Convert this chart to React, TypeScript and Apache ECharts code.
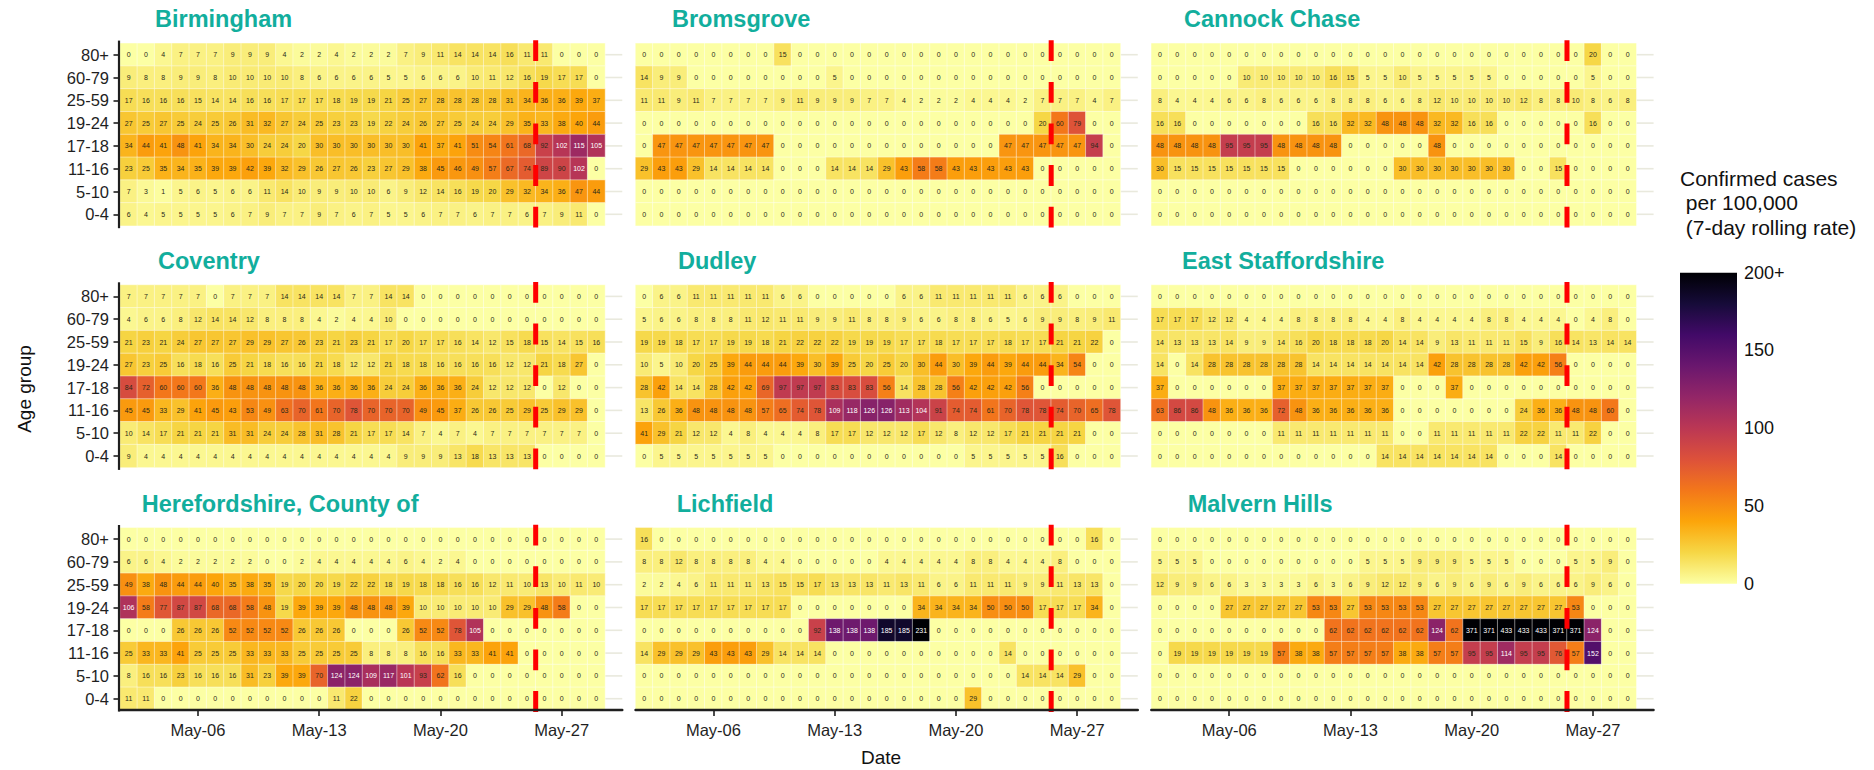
import React, { useEffect, useRef } from "react";
import * as echarts from "echarts";

const ageGroups = ["80+", "60-79", "25-59", "19-24", "17-18", "11-16", "5-10", "0-4"];
const dates = ["May-02", "May-03", "May-04", "May-05", "May-06", "May-07", "May-08", "May-09", "May-10", "May-11", "May-12", "May-13", "May-14", "May-15", "May-16", "May-17", "May-18", "May-19", "May-20", "May-21", "May-22", "May-23", "May-24", "May-25", "May-26", "May-27", "May-28", "May-29", "May-30"];
const tickDates = ["May-06", "May-13", "May-20", "May-27"];
const lockdownEdgeDate = "May-26";
const inferno = ["#FCFFA4", "#F6D746", "#FCA50A", "#F3771A", "#DD513A", "#BB3754", "#932667", "#6A176E", "#420A68", "#160B39", "#000004"];

const noCases = [0, 0, 0, 0, 0, 0, 0, 0, 0, 0, 0, 0, 0, 0, 0, 0, 0, 0, 0, 0, 0, 0, 0, 0, 0, 0, 0, 0];

const birmingham = [
  [0, 0, 4, 7, 7, 7, 9, 9, 9, 4, 2, 2, 4, 2, 2, 2, 7, 9, 11, 14, 14, 14, 16, 11, 11, 0, 0, 0],
  [9, 8, 8, 9, 9, 8, 10, 10, 10, 10, 8, 6, 6, 6, 6, 5, 5, 6, 6, 6, 10, 11, 12, 16, 19, 17, 17, 0],
  [17, 16, 16, 16, 15, 14, 14, 16, 16, 17, 17, 17, 18, 19, 19, 21, 25, 27, 28, 28, 28, 28, 31, 34, 36, 36, 39, 37],
  [27, 25, 27, 25, 24, 25, 26, 31, 32, 27, 24, 25, 23, 23, 19, 22, 24, 26, 27, 25, 24, 24, 29, 35, 33, 38, 40, 44],
  [34, 44, 41, 48, 41, 34, 34, 30, 24, 24, 20, 30, 30, 30, 30, 30, 30, 41, 37, 41, 51, 54, 61, 68, 92, 102, 115, 105],
  [23, 25, 35, 34, 35, 39, 39, 42, 39, 32, 29, 26, 27, 26, 23, 27, 29, 38, 45, 46, 49, 57, 67, 74, 89, 90, 102, 0],
  [7, 3, 1, 5, 6, 5, 6, 6, 11, 14, 10, 9, 9, 10, 10, 6, 9, 12, 14, 16, 19, 20, 29, 32, 34, 36, 47, 44],
  [6, 4, 5, 5, 5, 5, 6, 7, 9, 7, 7, 9, 7, 6, 7, 5, 5, 6, 7, 7, 6, 7, 7, 6, 7, 9, 11, 0],
];
const bromsgrove = [
  [0, 0, 0, 0, 0, 0, 0, 0, 15, 0, 0, 0, 0, 0, 0, 0, 0, 0, 0, 0, 0, 0, 0, 0, 0, 0, 0, 0],
  [14, 9, 9, 0, 0, 0, 0, 0, 0, 0, 0, 5, 0, 0, 0, 0, 0, 0, 0, 0, 0, 0, 0, 0, 0, 0, 0, 0],
  [11, 11, 9, 11, 7, 7, 7, 7, 9, 11, 9, 9, 9, 7, 7, 4, 2, 2, 2, 4, 4, 4, 2, 7, 7, 7, 4, 7],
  [0, 0, 0, 0, 0, 0, 0, 0, 0, 0, 0, 0, 0, 0, 0, 0, 0, 0, 0, 0, 0, 0, 0, 20, 60, 79, 0, 0],
  [0, 47, 47, 47, 47, 47, 47, 47, 0, 0, 0, 0, 0, 0, 0, 0, 0, 0, 0, 0, 0, 47, 47, 47, 47, 47, 94, 0],
  [29, 43, 43, 29, 14, 14, 14, 14, 0, 0, 0, 14, 14, 14, 29, 43, 58, 58, 43, 43, 43, 43, 43, 0, 0, 0, 0, 0],
  noCases,
  noCases,
];
const cannockChase = [
  [0, 0, 0, 0, 0, 0, 0, 0, 0, 0, 0, 0, 0, 0, 0, 0, 0, 0, 0, 0, 0, 0, 0, 0, 0, 20, 0, 0],
  [0, 0, 0, 0, 0, 10, 10, 10, 10, 10, 16, 15, 5, 5, 10, 5, 5, 5, 5, 5, 0, 0, 0, 0, 0, 5, 0, 0],
  [8, 4, 4, 4, 6, 6, 8, 6, 6, 6, 8, 8, 8, 6, 6, 8, 12, 10, 10, 10, 10, 12, 8, 8, 10, 8, 6, 8],
  [16, 16, 0, 0, 0, 0, 0, 0, 0, 16, 16, 32, 32, 48, 48, 48, 32, 32, 16, 16, 0, 0, 0, 0, 0, 16, 0, 0],
  [48, 48, 48, 48, 95, 95, 95, 48, 48, 48, 48, 0, 0, 0, 0, 0, 48, 0, 0, 0, 0, 0, 0, 0, 0, 0, 0, 0],
  [30, 15, 15, 15, 15, 15, 15, 15, 0, 0, 0, 0, 0, 0, 30, 30, 30, 30, 30, 30, 30, 0, 0, 15, 0, 0, 0, 0],
  noCases,
  noCases,
];
const coventry = [
  [7, 7, 7, 7, 7, 0, 7, 7, 7, 14, 14, 14, 14, 7, 7, 14, 14, 0, 0, 0, 0, 0, 0, 0, 0, 0, 0, 0],
  [4, 6, 6, 8, 12, 14, 14, 12, 8, 8, 8, 4, 2, 4, 4, 10, 0, 0, 0, 0, 0, 0, 0, 0, 0, 0, 0, 0],
  [21, 23, 21, 24, 27, 27, 27, 29, 29, 27, 26, 23, 21, 23, 21, 17, 20, 17, 17, 16, 14, 12, 15, 18, 15, 14, 15, 16],
  [27, 23, 25, 16, 18, 16, 25, 21, 18, 16, 16, 21, 18, 12, 12, 21, 18, 18, 16, 16, 16, 16, 12, 12, 21, 18, 27, 0],
  [84, 72, 60, 60, 60, 36, 48, 48, 48, 48, 48, 36, 36, 36, 36, 24, 24, 36, 36, 36, 24, 12, 12, 12, 0, 12, 0, 0],
  [45, 45, 33, 29, 41, 45, 43, 53, 49, 63, 70, 61, 70, 78, 70, 70, 70, 49, 45, 37, 26, 26, 25, 29, 25, 29, 29, 0],
  [10, 14, 17, 21, 21, 21, 31, 31, 24, 24, 28, 31, 28, 21, 17, 17, 14, 7, 4, 7, 4, 7, 7, 7, 7, 7, 7, 0],
  [9, 4, 4, 4, 4, 4, 4, 4, 4, 4, 4, 4, 4, 4, 4, 4, 9, 9, 9, 13, 18, 13, 13, 13, 0, 0, 0, 0],
];
const dudley = [
  [0, 6, 6, 11, 11, 11, 11, 11, 6, 6, 0, 0, 0, 0, 0, 6, 6, 11, 11, 11, 11, 11, 6, 6, 6, 0, 0, 0],
  [5, 6, 6, 8, 8, 8, 11, 12, 11, 11, 9, 9, 11, 8, 8, 9, 6, 6, 8, 8, 6, 5, 6, 9, 9, 8, 9, 11],
  [19, 19, 18, 17, 17, 19, 19, 18, 21, 22, 22, 22, 19, 19, 19, 17, 17, 18, 17, 17, 17, 18, 17, 17, 21, 21, 22, 0],
  [10, 5, 10, 20, 25, 39, 44, 44, 44, 39, 30, 39, 25, 20, 25, 20, 30, 44, 30, 39, 44, 39, 44, 44, 34, 54, 0, 0],
  [28, 42, 14, 14, 28, 42, 42, 69, 97, 97, 97, 83, 83, 83, 56, 14, 28, 28, 56, 42, 42, 42, 56, 0, 0, 0, 0, 0],
  [13, 26, 36, 48, 48, 48, 48, 57, 65, 74, 78, 109, 118, 126, 126, 113, 104, 91, 74, 74, 61, 70, 78, 78, 74, 70, 65, 78],
  [41, 29, 21, 12, 12, 4, 8, 4, 4, 4, 8, 17, 17, 12, 12, 12, 17, 12, 8, 12, 12, 17, 21, 21, 21, 21, 0, 0],
  [0, 5, 5, 5, 5, 5, 5, 5, 0, 0, 0, 0, 0, 0, 0, 0, 0, 0, 0, 5, 5, 5, 5, 5, 16, 0, 0, 0],
];
const eastStaffordshire = [
  noCases,
  [17, 17, 17, 12, 12, 4, 4, 4, 8, 8, 8, 8, 4, 4, 8, 4, 4, 4, 4, 8, 8, 4, 4, 4, 0, 4, 8, 0],
  [14, 13, 13, 13, 14, 9, 9, 14, 16, 20, 18, 18, 18, 20, 14, 14, 9, 13, 11, 11, 11, 15, 9, 16, 14, 13, 14, 14],
  [14, 0, 14, 28, 28, 28, 28, 28, 28, 14, 14, 14, 14, 14, 14, 14, 42, 28, 28, 28, 28, 42, 42, 56, 0, 0, 0, 0],
  [37, 0, 0, 0, 0, 0, 0, 37, 37, 37, 37, 37, 37, 37, 0, 0, 0, 37, 0, 0, 0, 0, 0, 0, 0, 0, 0, 0],
  [63, 86, 86, 48, 36, 36, 36, 72, 48, 36, 36, 36, 36, 36, 0, 0, 0, 0, 0, 0, 0, 24, 36, 36, 48, 48, 60, 0],
  [0, 0, 0, 0, 0, 0, 0, 11, 11, 11, 11, 11, 11, 11, 0, 0, 11, 11, 11, 11, 11, 22, 22, 11, 11, 22, 0, 0],
  [0, 0, 0, 0, 0, 0, 0, 0, 0, 0, 0, 0, 0, 14, 14, 14, 14, 14, 14, 14, 0, 0, 0, 14, 0, 0, 0, 0],
];
const herefordshire = [
  noCases,
  [6, 6, 4, 2, 2, 2, 2, 2, 0, 0, 2, 4, 4, 4, 4, 4, 6, 4, 2, 4, 0, 0, 0, 0, 0, 0, 0, 0],
  [49, 38, 48, 44, 44, 40, 35, 38, 35, 19, 20, 20, 19, 22, 22, 18, 19, 18, 18, 16, 16, 12, 11, 10, 13, 10, 11, 10],
  [106, 58, 77, 87, 87, 68, 68, 58, 48, 19, 39, 39, 39, 48, 48, 48, 39, 10, 10, 10, 10, 10, 29, 29, 48, 58, 0, 0],
  [0, 0, 0, 26, 26, 26, 52, 52, 52, 52, 26, 26, 26, 0, 0, 0, 26, 52, 52, 78, 105, 0, 0, 0, 0, 0, 0, 0],
  [25, 33, 33, 41, 25, 25, 25, 33, 33, 33, 25, 25, 25, 25, 8, 8, 8, 16, 16, 33, 33, 41, 41, 0, 0, 0, 0, 0],
  [8, 16, 16, 23, 16, 16, 16, 31, 23, 39, 39, 70, 124, 124, 109, 117, 101, 93, 62, 16, 0, 0, 0, 0, 0, 0, 0, 0],
  [11, 11, 0, 0, 0, 0, 0, 0, 0, 0, 0, 0, 11, 22, 0, 0, 0, 0, 0, 0, 0, 0, 0, 0, 0, 0, 0, 0],
];
const lichfield = [
  [16, 0, 0, 0, 0, 0, 0, 0, 0, 0, 0, 0, 0, 0, 0, 0, 0, 0, 0, 0, 0, 0, 0, 0, 0, 0, 16, 0],
  [8, 8, 12, 8, 8, 8, 8, 4, 4, 0, 0, 0, 0, 0, 4, 4, 4, 4, 4, 8, 8, 4, 4, 4, 8, 0, 0, 0],
  [2, 2, 4, 6, 11, 11, 11, 13, 15, 15, 17, 13, 13, 13, 11, 13, 11, 6, 6, 11, 11, 11, 9, 9, 11, 13, 13, 0],
  [17, 17, 17, 17, 17, 17, 17, 17, 17, 0, 0, 0, 0, 0, 0, 0, 34, 34, 34, 34, 50, 50, 50, 17, 17, 17, 34, 0],
  [0, 0, 0, 0, 0, 0, 0, 0, 0, 0, 92, 138, 138, 138, 185, 185, 231, 0, 0, 0, 0, 0, 0, 0, 0, 0, 0, 0],
  [14, 29, 29, 29, 43, 43, 43, 29, 14, 14, 14, 0, 0, 0, 0, 0, 0, 0, 0, 0, 0, 14, 0, 0, 0, 0, 0, 0],
  [0, 0, 0, 0, 0, 0, 0, 0, 0, 0, 0, 0, 0, 0, 0, 0, 0, 0, 0, 0, 0, 0, 14, 14, 14, 29, 0, 0],
  [0, 0, 0, 0, 0, 0, 0, 0, 0, 0, 0, 0, 0, 0, 0, 0, 0, 0, 0, 29, 0, 0, 0, 0, 0, 0, 0, 0],
];
const malvernHills = [
  noCases,
  [5, 5, 5, 0, 0, 0, 0, 0, 0, 0, 0, 0, 5, 5, 5, 9, 9, 9, 5, 5, 5, 0, 0, 0, 5, 5, 9, 0],
  [12, 9, 9, 6, 6, 3, 3, 3, 3, 6, 3, 6, 9, 12, 12, 9, 6, 9, 6, 9, 6, 9, 6, 6, 6, 9, 6, 0],
  [0, 0, 0, 0, 27, 27, 27, 27, 27, 53, 53, 27, 53, 53, 53, 53, 27, 27, 27, 27, 27, 27, 27, 27, 53, 0, 0, 0],
  [0, 0, 0, 0, 0, 0, 0, 0, 0, 0, 62, 62, 62, 62, 62, 62, 124, 62, 371, 371, 433, 433, 433, 371, 371, 124, 0, 0],
  [0, 19, 19, 19, 19, 19, 19, 57, 38, 38, 57, 57, 57, 57, 38, 38, 57, 57, 95, 95, 114, 95, 95, 76, 57, 152, 0, 0],
  noCases,
  noCases,
];

const panelNames = ["Birmingham", "Bromsgrove", "Cannock Chase", "Coventry", "Dudley", "East Staffordshire", "Herefordshire, County of", "Lichfield", "Malvern Hills"];
const panelValues = [birmingham, bromsgrove, cannockChase, coventry, dudley, eastStaffordshire, herefordshire, lichfield, malvernHills];

const FONT = "Liberation Sans";
const INK = "#1f1f1f";
const colLeft = [120, 635.5, 1151.3];
const rowTop = [43.3, 285, 527.7];
const titleLeft = [[155, 672, 1184], [158, 678, 1182], [141.7, 676.7, 1187.7]];
const titleTop = [7, 249, 492];
const gridW = 29 * 17.32;
const gridH = 182.4;

function buildOption() {
  const grid: any[] = [];
  const xAxis: any[] = [];
  const yAxis: any[] = [];
  const series: any[] = [];
  const title: any[] = [];
  const heatIdx: number[] = [];

  panelValues.forEach((rows, p) => {
    const r = Math.floor(p / 3);
    const c = p % 3;
    grid.push({ left: colLeft[c], top: rowTop[r], width: gridW, height: gridH, containLabel: false });
    title.push({
      text: panelNames[p],
      left: titleLeft[r][c],
      top: titleTop[r],
      padding: 0,
      textStyle: { color: "#12AE9D", fontFamily: FONT, fontSize: 23.5, fontWeight: "bold" },
    });
    const bottomRow = r === 2;
    xAxis.push({
      gridIndex: p,
      type: "category",
      data: dates,
      position: "bottom",
      show: bottomRow,
      z: 8,
      boundaryGap: true,
      axisLine: { show: bottomRow, lineStyle: { color: INK, width: 2.4 } },
      axisTick: {
        show: bottomRow,
        alignWithLabel: true,
        length: 6,
        lineStyle: { color: INK, width: 1.6 },
        interval: (_: number, v: string) => tickDates.includes(v),
      },
      axisLabel: {
        show: bottomRow,
        interval: (_: number, v: string) => tickDates.includes(v),
        fontFamily: FONT,
        fontSize: 16.5,
        color: INK,
        margin: 11,
      },
      splitLine: { show: false },
    });
    const firstCol = c === 0;
    yAxis.push({
      gridIndex: p,
      type: "category",
      data: ageGroups,
      inverse: true,
      show: firstCol,
      axisLine: { show: false },
      axisTick: { show: firstCol, length: 6.5, alignWithLabel: true, lineStyle: { color: INK, width: 1.6 } },
      axisLabel: { show: firstCol, fontFamily: FONT, fontSize: 16.5, color: INK, margin: 11, interval: 0 },
      splitLine: { show: false },
    });

    const cells: any[] = [];
    rows.forEach((row, y) =>
      row.forEach((v, x) => {
        cells.push({
          value: [x, y, v, Math.min(v, 200)],
          label: { color: v >= 100 ? "#ffffff" : "#2a2a18" },
        });
      })
    );

    // light guide lines, visible only in the empty last day of each panel
    series.push({
      type: "custom",
      xAxisIndex: p,
      yAxisIndex: p,
      z: 1,
      silent: true,
      data: ageGroups.map((_, y) => [dates.length - 1, y]),
      renderItem: (_: any, api: any) => {
        const pt = api.coord([api.value(0), api.value(1)]);
        const band = api.size([1, 1]);
        return {
          type: "line",
          shape: { x1: pt[0] - band[0] / 2, y1: pt[1], x2: pt[0] + band[0] / 2, y2: pt[1] },
          style: { stroke: "#e9e9dd", lineWidth: 1.6 },
        };
      },
    });

    heatIdx.push(series.length);
    series.push({
      type: "heatmap",
      xAxisIndex: p,
      yAxisIndex: p,
      z: 2,
      data: cells,
      itemStyle: { borderColor: "rgba(255,255,255,0.55)", borderWidth: 0.8 },
      label: {
        show: true,
        fontFamily: FONT,
        fontSize: 7,
        formatter: (q: any) => String(q.value[2]),
      },
      emphasis: { disabled: true },
    });

    // dashed red line at the edge of the day
    series.push({
      type: "custom",
      xAxisIndex: p,
      yAxisIndex: p,
      z: 6,
      silent: true,
      data: [[dates.indexOf(lockdownEdgeDate), 0]],
      renderItem: (_: any, api: any) => {
        const a = api.coord([api.value(0), 0]);
        const b = api.coord([api.value(0), ageGroups.length - 1]);
        const band = api.size([1, 1]);
        const x = a[0] - band[0] / 2;
        return {
          type: "line",
          shape: { x1: x, y1: a[1] - band[1] / 2 - 3, x2: x, y2: b[1] + band[1] / 2 + 3 },
          style: { stroke: "#ff0000", lineWidth: 5, lineDash: [20.8, 20.8] },
          z2: 100,
        };
      },
    });

    if (firstCol) {
      series.push({
        type: "custom",
        xAxisIndex: p,
        yAxisIndex: p,
        z: 7,
        silent: true,
        data: [[0, 0]],
        renderItem: (_: any, api: any) => {
          const a = api.coord([0, 0]);
          const b = api.coord([0, ageGroups.length - 1]);
          const band = api.size([1, 1]);
          const x = a[0] - band[0] / 2 - 1;
          return {
            type: "line",
            shape: { x1: x, y1: a[1] - band[1] / 2 - 2.7, x2: x, y2: b[1] + band[1] / 2 + (bottomRow ? 1.5 : 2.5) },
            style: { stroke: INK, lineWidth: 2.2 },
          };
        },
      });
    }
  });

  // colour legend, drawn on its own small value axis
  const lg = panelValues.length;
  grid.push({ left: 1680, top: 272.7, width: 57, height: 311 });
  xAxis.push({ gridIndex: lg, type: "value", min: 0, max: 1, show: false });
  yAxis.push({
    gridIndex: lg,
    type: "value",
    min: 0,
    max: 200,
    interval: 50,
    position: "right",
    axisLine: { show: false },
    splitLine: { show: false },
    axisTick: { show: false },
    axisLabel: {
      fontFamily: FONT,
      fontSize: 18,
      color: "#111111",
      margin: 7,
      formatter: (v: number) => (v === 200 ? "200+" : String(v)),
    },
  });
  series.push({
    type: "custom",
    xAxisIndex: lg,
    yAxisIndex: lg,
    z: 1,
    silent: true,
    data: [[0, 0]],
    renderItem: (_: any, api: any) => {
      const a = api.coord([0, 200]);
      const b = api.coord([1, 0]);
      return {
        type: "rect",
        shape: { x: a[0], y: a[1], width: b[0] - a[0], height: b[1] - a[1] },
        style: {
          fill: new echarts.graphic.LinearGradient(
            0, 1, 0, 0,
            inferno.map((color, i) => ({ offset: i / (inferno.length - 1), color }))
          ),
        },
      };
    },
  });

  return {
    animation: false,
    backgroundColor: "#ffffff",
    textStyle: { fontFamily: FONT },
    title,
    grid,
    xAxis,
    yAxis,
    visualMap: {
      type: "continuous",
      show: false,
      min: 0,
      max: 200,
      dimension: 3,
      seriesIndex: heatIdx,
      inRange: { color: inferno },
    },
    series,
    graphic: [
      {
        type: "text",
        x: 1680,
        y: 166,
        style: {
          text: "Confirmed cases\n per 100,000\n (7-day rolling rate)",
          fontFamily: FONT,
          fontSize: 21,
          lineHeight: 24.5,
          fill: "#111111",
        },
      },
      {
        type: "text",
        x: 881,
        y: 757,
        style: { text: "Date", fontFamily: FONT, fontSize: 19, fill: "#111111", textAlign: "center", textVerticalAlign: "middle" },
      },
      {
        type: "text",
        x: 24,
        y: 389,
        rotation: Math.PI / 2,
        style: { text: "Age group", fontFamily: FONT, fontSize: 19, fill: "#111111", textAlign: "center", textVerticalAlign: "middle" },
      },
    ],
  };
}

export default function App() {
  const ref = useRef<HTMLDivElement>(null);
  useEffect(() => {
    document.body.style.margin = "0";
    const chart = echarts.init(ref.current!, null, { renderer: "svg" });
    chart.setOption(buildOption() as any);
    return () => chart.dispose();
  }, []);
  return <div ref={ref} style={{ position: "fixed", left: 0, top: 0, width: 1874, height: 770 }} />;
}
